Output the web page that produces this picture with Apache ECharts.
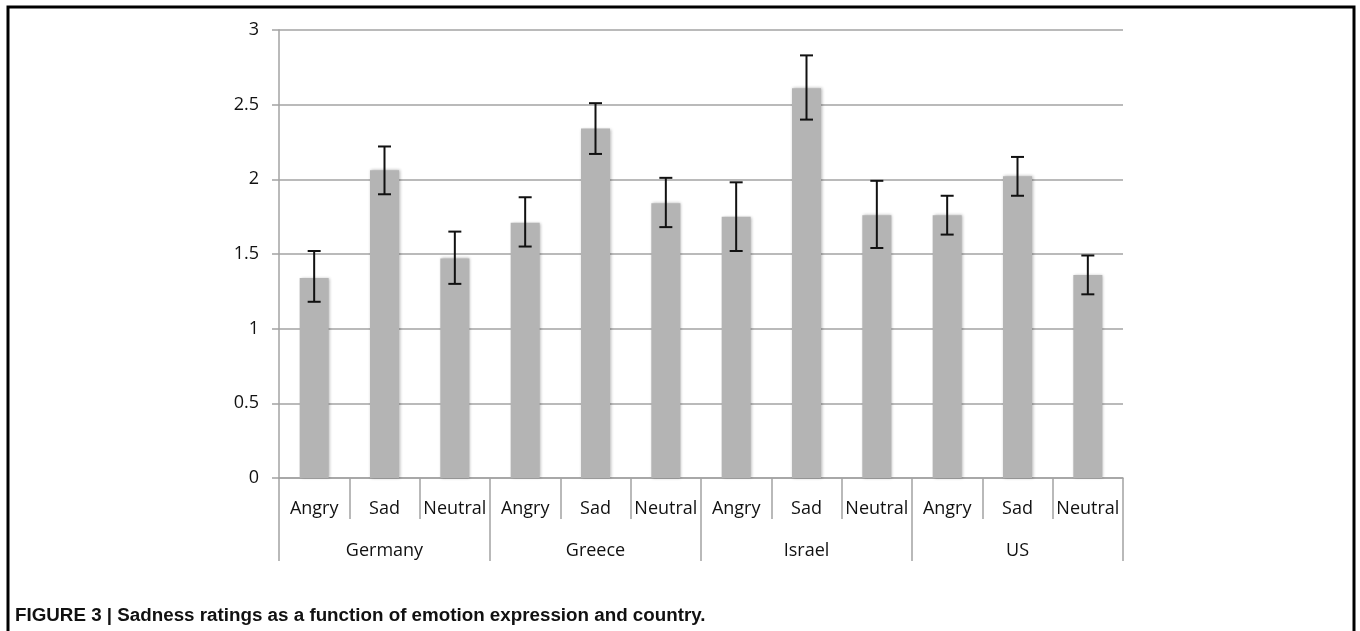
<!DOCTYPE html>
<html>
<head>
<meta charset="utf-8">
<script src="https://cdn.jsdelivr.net/npm/echarts@6/dist/echarts.min.js"></script>
<style>
  html, body { margin: 0; padding: 0; background: #fff; }
  #chart { width: 1360px; height: 631px; }
</style>
</head>
<body>
<div id="chart"></div>
<script>
// ---- data ----
const countries = ['Germany', 'Greece', 'Israel', 'US'];
const emotions = ['Angry', 'Sad', 'Neutral'];
const means   = [1.34, 2.06, 1.47,  1.71, 2.34, 1.84,  1.75, 2.61, 1.76,  1.76, 2.02, 1.36];
const errLow  = [1.18, 1.90, 1.30,  1.55, 2.17, 1.68,  1.52, 2.40, 1.54,  1.63, 1.89, 1.23];
const errHigh = [1.52, 2.22, 1.65,  1.88, 2.51, 2.01,  1.98, 2.83, 1.99,  1.89, 2.15, 1.49];
const yTickLabels = ['0', '0.5', '1', '1.5', '2', '2.5', '3'];
const captionText = 'FIGURE 3 | Sadness ratings as a function of emotion expression and country.';

// ---- build ----
const categories = [];
countries.forEach(() => emotions.forEach(e => categories.push(e)));
const errData = means.map((m, i) => [i, errLow[i], errHigh[i]]);

const gray = '#a3a3a3';
const font = '"Open Sans", sans-serif';

const chart = echarts.init(document.getElementById('chart'), null, { renderer: 'canvas' });
chart.setOption({
  animation: false,
  backgroundColor: '#fff',
  title: {
    text: captionText,
    left: 10,
    top: 601,
    textStyle: { fontFamily: '"Liberation Sans", Arial, sans-serif', fontWeight: 'bold', fontSize: 18.8, color: '#111' }
  },
  graphic: [{
    type: 'rect',
    shape: { x: 8, y: 7, width: 1346, height: 700 },
    style: { fill: 'none', stroke: '#000', lineWidth: 3 },
    silent: true
  }],
  grid: { left: 279, right: 237, top: 30, bottom: 153, containLabel: false },
  xAxis: [{
    type: 'category',
    data: categories,
    position: 'bottom',
    axisLine: { show: true, lineStyle: { color: gray, width: 1.5 } },
    axisTick: { show: true, interval: 0, length: 41, lineStyle: { color: gray, width: 1.5 } },
    axisLabel: { interval: 0, margin: 22, fontFamily: font, fontSize: 18, color: '#111' }
  }, {
    type: 'category',
    data: countries,
    position: 'bottom',
    offset: 0,
    axisLine: { show: false },
    axisTick: { show: true, interval: 0, length: 83, lineStyle: { color: gray, width: 1.5 } },
    axisLabel: { interval: 0, margin: 64, fontFamily: font, fontSize: 18, color: '#111' }
  }],
  yAxis: {
    type: 'value',
    min: 0, max: 3, interval: 0.5,
    axisLine: { show: true, lineStyle: { color: gray, width: 1.5 } },
    axisTick: { show: true, length: 7, lineStyle: { color: gray, width: 1.5 } },
    splitLine: { show: true, lineStyle: { color: gray, width: 1.5 } },
    axisLabel: {
      margin: 20, fontFamily: font, fontSize: 18, color: '#111',
      formatter: (v) => yTickLabels[Math.round(v / 0.5)]
    }
  },
  series: [{
    type: 'bar',
    xAxisIndex: 0,
    data: means,
    barWidth: 29,
    itemStyle: {
      color: '#b4b4b4',
      shadowBlur: 3,
      shadowColor: 'rgba(0,0,0,0.3)',
      shadowOffsetX: 1
    }
  }, {
    type: 'custom',
    xAxisIndex: 0,
    data: errData,
    encode: { x: 0, y: [1, 2] },
    z: 5,
    renderItem: function (params, api) {
      const x = api.value(0);
      const lo = api.coord([x, api.value(1)]);
      const hi = api.coord([x, api.value(2)]);
      const hw = 6.5;
      const st = { stroke: '#111', lineWidth: 2 };
      return {
        type: 'group',
        children: [
          { type: 'line', shape: { x1: lo[0], y1: lo[1], x2: hi[0], y2: hi[1] }, style: st },
          { type: 'line', shape: { x1: lo[0] - hw, y1: lo[1], x2: lo[0] + hw, y2: lo[1] }, style: st },
          { type: 'line', shape: { x1: hi[0] - hw, y1: hi[1], x2: hi[0] + hw, y2: hi[1] }, style: st }
        ]
      };
    }
  }]
});
</script>
</body>
</html>
